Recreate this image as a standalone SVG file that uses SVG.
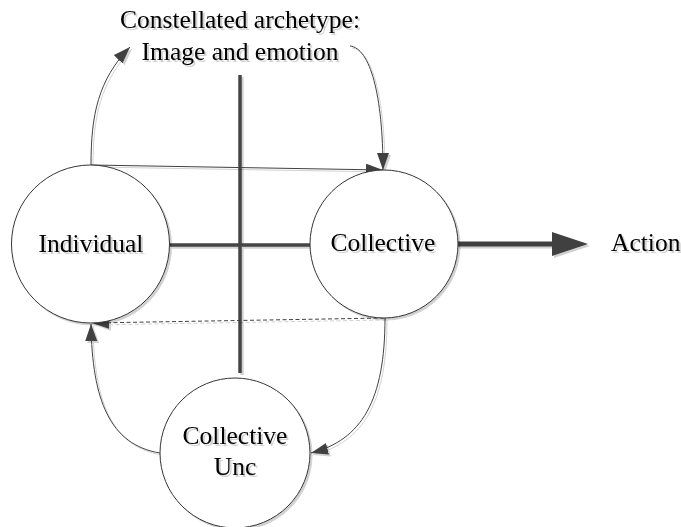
<svg xmlns="http://www.w3.org/2000/svg" width="681" height="527" viewBox="0 0 681 527">
  <defs>
    <filter id="soft" x="-10%" y="-10%" width="130%" height="130%">
      <feDropShadow dx="2" dy="2" stdDeviation="0.6" flood-color="#000" flood-opacity="0.18"/>
    </filter>
    <marker id="head" markerUnits="userSpaceOnUse" markerWidth="18" markerHeight="14" refX="17" refY="6" orient="auto">
      <path d="M0,0 L17,6 L0,12 Z" fill="#404040"/>
    </marker>
  </defs>
  <style>
    .node { fill: #fff; stroke: #333; stroke-width: 1; }
    .lbl { font-size: 25.5px; fill: #000; text-anchor: middle; }
    .wire { fill: none; stroke: #404040; stroke-width: 1; }
    .bar { stroke: #444; stroke-width: 3.5; fill: none; }
  </style>

  <!-- cross dividing the plane -->
  <g id="cross" filter="url(#soft)">
    <line class="bar" x1="240" y1="75" x2="240" y2="373"/>
    <line class="bar" x1="170" y1="245" x2="310" y2="245"/>
  </g>

  <g id="connectors" filter="url(#soft)">
    <path class="wire" d="M 91 165 C 91 115, 98 80, 130 47" marker-end="url(#head)"/>
    <path class="wire" d="M 91 165 L 383 170" marker-end="url(#head)"/>
    <path class="wire" d="M 350 46 C 370 48, 383 95, 383 170" marker-end="url(#head)"/>
    <path class="wire" d="M 384 318 L 92 323" stroke-dasharray="4 2.5" marker-end="url(#head)"/>
    <path class="wire" d="M 385 318 C 385 400, 362 440, 311 453" marker-end="url(#head)"/>
    <path class="wire" d="M 160 453 C 110 445, 92 400, 91 324" marker-end="url(#head)"/>
    <line x1="457" y1="244" x2="556" y2="244" stroke="#404040" stroke-width="5"/>
    <polygon points="552,232 588,244 552,256" fill="#404040"/>
  </g>

  <g font-family="Liberation Serif, DejaVu Serif, serif">
    <g id="individual">
      <circle class="node" cx="90.5" cy="244" r="79" filter="url(#soft)"/>
      <text class="lbl" x="91" y="252" filter="url(#soft)">Individual</text>
    </g>

    <g id="collective">
      <circle class="node" cx="384" cy="244" r="74" filter="url(#soft)"/>
      <text class="lbl" x="383" y="251" filter="url(#soft)">Collective</text>
    </g>

    <g id="collective-unc">
      <circle class="node" cx="235" cy="453" r="75" filter="url(#soft)"/>
      <text class="lbl" x="235" y="444" filter="url(#soft)">Collective</text>
      <text class="lbl" x="235" y="475" filter="url(#soft)">Unc</text>
    </g>

    <g id="archetype">
      <text class="lbl" x="240" y="28" filter="url(#soft)">Constellated archetype:</text>
      <text class="lbl" x="240" y="60" filter="url(#soft)">Image and emotion</text>
    </g>

    <g id="action">
      <text class="lbl" x="611" y="251" style="text-anchor:start" filter="url(#soft)">Action</text>
    </g>
  </g>
</svg>
